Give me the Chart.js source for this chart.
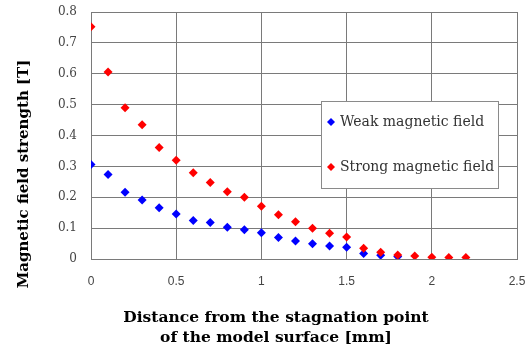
<!DOCTYPE html>
<html>
<head>
<meta charset="utf-8">
<script src="https://cdn.jsdelivr.net/npm/chart.js@4/dist/chart.umd.min.js"></script>
<style>
  html, body { margin: 0; padding: 0; background: #fff; }
  #wrap { position: relative; width: 532px; height: 354px; }
</style>
</head>
<body>
<div id="wrap"><canvas id="magChart" width="532" height="354"></canvas></div>
<script>
// distance from stagnation point [mm]
const distWeak = [0, 0.1, 0.2, 0.3, 0.4, 0.5, 0.6, 0.7, 0.8, 0.9, 1.0, 1.1, 1.2, 1.3, 1.4, 1.5, 1.6, 1.7, 1.8];
const weakField = [0.306, 0.274, 0.216, 0.191, 0.166, 0.146, 0.125, 0.118, 0.103, 0.095, 0.085, 0.070, 0.058, 0.049, 0.042, 0.038, 0.018, 0.012, 0.008];

const distStrong = [0, 0.1, 0.2, 0.3, 0.4, 0.5, 0.6, 0.7, 0.8, 0.9, 1.0, 1.1, 1.2, 1.3, 1.4, 1.5, 1.6, 1.7, 1.8, 1.9, 2.0, 2.1, 2.2];
const strongField = [0.752, 0.606, 0.490, 0.435, 0.361, 0.320, 0.279, 0.248, 0.218, 0.200, 0.171, 0.143, 0.121, 0.100, 0.083, 0.071, 0.035, 0.022, 0.013, 0.010, 0.006, 0.005, 0.005];

const seriesNames = ['Weak magnetic field', 'Strong magnetic field'];
const xTicks = [0, 0.5, 1, 1.5, 2, 2.5];
const yTicks = [0, 0.1, 0.2, 0.3, 0.4, 0.5, 0.6, 0.7, 0.8];
const xTitle = ['Distance from the stagnation point', 'of the model surface [mm]'];
const yTitle = 'Magnetic field strength [T]';

const gridColor = '#7a7a7a';

function toPoints(xs, ys) {
    return xs.map((x, i) => ({ x: x, y: ys[i] }));
}

// axis titles + boxed legend, placed like the excel original
const extrasPlugin = {
    id: 'extras',
    afterDraw(chart) {
        const ctx = chart.ctx;
        ctx.save();
        ctx.fillStyle = '#000';
        ctx.textAlign = 'center';
        ctx.textBaseline = 'middle';

        ctx.font = 'bold 15px "DejaVu Serif"';
        ctx.translate(24, 174);
        ctx.rotate(-Math.PI / 2);
        ctx.fillText(yTitle, 0, 0);
        ctx.setTransform(1, 0, 0, 1, 0, 0);

        ctx.font = 'bold 15.5px "DejaVu Serif"';
        ctx.fillText(xTitle[0], 276, 318);
        ctx.fillText(xTitle[1], 276, 338);

        // legend box
        const bx = 321, by = 101, bw = 177, bh = 87;
        ctx.fillStyle = '#fff';
        ctx.fillRect(bx, by, bw, bh);
        ctx.strokeStyle = '#8a8a8a';
        ctx.lineWidth = 1;
        ctx.strokeRect(bx + 0.5, by + 0.5, bw, bh);

        const rows = [122, 167];
        ctx.font = '14px "DejaVu Serif"';
        ctx.textAlign = 'left';
        chart.data.datasets.forEach((ds, i) => {
            const cy = rows[i];
            ctx.fillStyle = ds.backgroundColor;
            ctx.beginPath();
            ctx.moveTo(331, cy - 4);
            ctx.lineTo(335, cy);
            ctx.lineTo(331, cy + 4);
            ctx.lineTo(327, cy);
            ctx.closePath();
            ctx.fill();
            ctx.fillStyle = '#333';
            ctx.fillText(ds.label, 340, cy);
        });
        ctx.restore();
    }
};

const ctx = document.getElementById('magChart').getContext('2d');
const chart = new Chart(ctx, {
    type: 'scatter',
    data: {
        datasets: [{
            label: seriesNames[0],
            data: toPoints(distWeak, weakField),
            backgroundColor: '#0000ff',
            borderColor: '#0000ff',
            pointStyle: 'rectRot',
            pointRadius: 4.5,
            borderWidth: 0,
            order: 2
        }, {
            label: seriesNames[1],
            data: toPoints(distStrong, strongField),
            backgroundColor: '#ff0000',
            borderColor: '#ff0000',
            pointStyle: 'rectRot',
            pointRadius: 4.5,
            borderWidth: 0,
            order: 1
        }]
    },
    options: {
        responsive: false,
        animation: false,
        layout: { padding: { top: 12, right: 15, left: 0, bottom: 0 } },
        plugins: {
            legend: { display: false },
            tooltip: { enabled: false }
        },
        scales: {
            x: {
                type: 'linear',
                min: 0,
                max: 2.5,
                afterFit: s => { s.height = 95; s.paddingLeft = 0; s.paddingRight = 0; },
                afterBuildTicks: s => { s.ticks = xTicks.map(v => ({ value: v })); },
                grid: { color: gridColor, drawTicks: false },
                border: { color: gridColor },
                ticks: {
                    padding: 15,
                    color: '#444',
                    font: { family: 'Arial, "Liberation Sans", sans-serif', size: 12 },
                    callback: v => String(v)
                }
            },
            y: {
                type: 'linear',
                min: 0,
                max: 0.8,
                afterFit: s => { s.width = 91; s.paddingTop = 0; s.paddingBottom = 0; },
                afterBuildTicks: s => { s.ticks = yTicks.map(v => ({ value: v })); },
                grid: { color: gridColor, drawTicks: false },
                border: { color: gridColor },
                ticks: {
                    padding: 14,
                    color: '#444',
                    font: { family: '"DejaVu Serif"', size: 12 },
                    callback: v => String(v)
                }
            }
        }
    },
    plugins: [extrasPlugin]
});
</script>
</body>
</html>
